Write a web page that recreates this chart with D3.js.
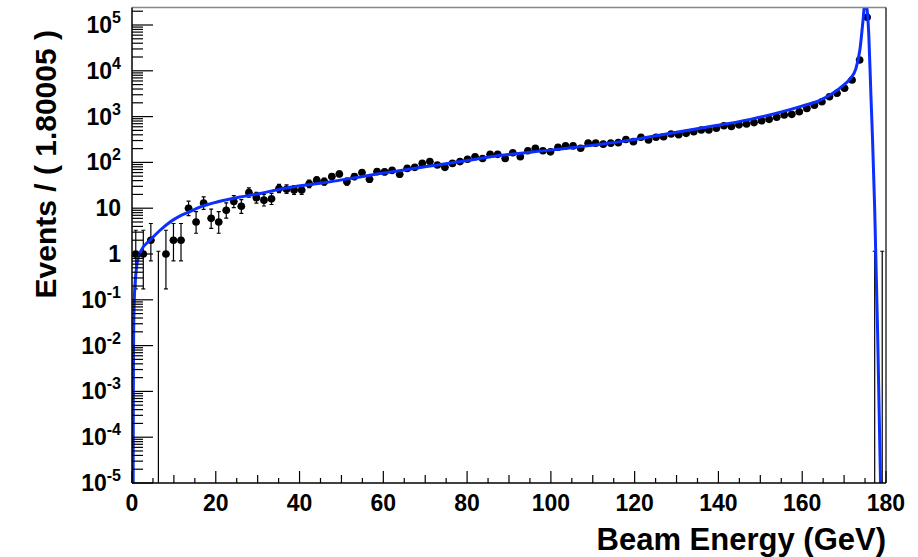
<!DOCTYPE html>
<html><head><meta charset="utf-8">
<script src="https://cdn.jsdelivr.net/npm/d3@7"></script>
<style>
html,body{margin:0;padding:0;background:#fff;}
svg text{font-family:"Liberation Sans",Arial,Helvetica,sans-serif;font-weight:bold;fill:#000;}
</style></head>
<body><svg id="chart" width="918" height="557"></svg>
<script>
// ---------------- DATA ----------------
const binWidth = 1.80005;
const nBins = 100;
// event counts per bin (bin i centred at (i+0.5)*binWidth GeV)
const counts = [
  1, 1, 2, 0, 1, 2, 2, 10, 5, 13,
  6, 5, 9, 14, 11, 22, 17, 15, 16, 27,
  26, 25, 25, 34, 41, 38, 49, 56, 38, 49,
  60, 43, 63, 62, 67, 55, 74, 78, 95, 104,
  88, 78, 95, 104, 117, 133, 122, 150, 150, 122,
  163, 133, 180, 204, 180, 170, 214, 229, 229, 204,
  263, 263, 250, 263, 270, 316, 284, 354, 308, 354,
  363, 417, 400, 431, 467, 510, 510, 555, 630, 610,
  660, 690, 740, 810, 870, 965, 1080, 1120, 1280, 1510,
  1780, 2110, 2720, 3230, 4170, 6300, 17200, 147000, 0, 0
];
// fitted model curve (GeV, events)
const curveE = [0.28, 0.32, 0.4, 0.55, 0.9, 1.3, 2.2, 4.3, 6.7, 9.1, 11.5, 13.8, 16.2, 21, 25.8, 30.6, 35.3, 40.1, 44.9, 49.7, 54.4, 59.2, 69.9, 80, 85.5, 101, 116.5, 123.7, 135.6, 147.6, 159.5, 164.3, 169, 171.5, 172.8, 173.8, 174.5, 175.0, 175.4, 175.9, 176.4, 176.8, 177.3, 178.0, 178.7];
const curveV = [1e-5, 0.001, 0.02, 0.1, 0.35, 0.7, 1.2, 2.0, 3.3, 5, 6.8, 8.4, 10.6, 14.2, 17.5, 21, 26, 31, 35, 41, 48, 57, 80, 110, 133, 190, 284, 363, 555, 870, 1650, 2300, 4200, 6800, 11000, 30000, 1.2e5, 3.2e5, 2.5e5, 6e4, 3000, 300, 10, 0.02, 1e-5];
// axis ticks
const xTicks = [0, 20, 40, 60, 80, 100, 120, 140, 160, 180];
const yExponents = [-5, -4, -3, -2, -1, 0, 1, 2, 3, 4, 5];
const xTitle = "Beam Energy (GeV)";
const yTitle = "Events / ( 1.80005 )";

// ---------------- LAYOUT ----------------
const L = 132, R = 886, T = 7.5, B = 483;
const svg = d3.select("#chart");
const x = d3.scaleLinear().domain([0, nBins * binWidth]).range([L, R]);
const y = d3.scaleLog().domain([1e-5, 2.41e5]).range([B, T]);

svg.append("defs").append("clipPath").attr("id", "clip")
  .append("rect").attr("x", L).attr("y", T).attr("width", R - L).attr("height", B - T);

// Poisson interval (68.27%), RooFit-style
function poisCdf(n, mu) { let p = Math.exp(-mu), s = p; for (let k = 1; k <= n; k++) { p *= mu / k; s += p; } return s; }
function poissonInterval(n) {
  if (n === 0) return [0, 1.1478745];
  if (n > 100) return [n - Math.sqrt(n + 0.25) + 0.5, n + Math.sqrt(n + 0.25) + 0.5];
  const a = 0.158655;
  let lo = 0, hi = n;
  for (let i = 0; i < 80; i++) { const m = (lo + hi) / 2; (1 - poisCdf(n - 1, m) > a) ? hi = m : lo = m; }
  const muLo = (lo + hi) / 2;
  lo = n; hi = n + 10 * Math.sqrt(n) + 10;
  for (let i = 0; i < 80; i++) { const m = (lo + hi) / 2; (poisCdf(n, m) > a) ? lo = m : hi = m; }
  return [muLo, (lo + hi) / 2];
}

const pts = counts.map((c, i) => {
  const [lo, hi] = poissonInterval(c);
  return { e: (i + 0.5) * binWidth, e0: i * binWidth, e1: (i + 1) * binWidth, c, lo, hi };
});

const gData = svg.append("g").attr("clip-path", "url(#clip)");
const yc = v => v <= 0 ? B + 50 : y(v);
gData.selectAll("line.ev").data(pts).join("line")
  .attr("x1", d => x(d.e)).attr("x2", d => x(d.e))
  .attr("y1", d => yc(d.lo)).attr("y2", d => yc(d.hi))
  .attr("stroke", "#000").attr("stroke-width", 1.2);
gData.selectAll("line.cap").data(pts.flatMap(d => [[d, d.hi], [d, d.lo]]).filter(p => p[1] > 0)).join("line")
  .attr("x1", p => x(p[0].e) - 2).attr("x2", p => x(p[0].e) + 2)
  .attr("y1", p => y(p[1])).attr("y2", p => y(p[1]))
  .attr("stroke", "#000").attr("stroke-width", 1.2);
gData.selectAll("line.eh").data(pts.filter(d => d.c > 0)).join("line")
  .attr("x1", d => x(d.e0)).attr("x2", d => x(d.e1))
  .attr("y1", d => y(d.c)).attr("y2", d => y(d.c))
  .attr("stroke", "#000").attr("stroke-width", 1.2);
gData.selectAll("circle").data(pts.filter(d => d.c > 0)).join("circle")
  .attr("cx", d => x(d.e)).attr("cy", d => y(d.c)).attr("r", 3.8).attr("fill", "#000");

const curve = curveE.map((e, i) => [e, curveV[i]]);
gData.append("path").datum(curve)
  .attr("d", d3.line().x(d => x(d[0])).y(d => y(d[1])).curve(d3.curveMonotoneX))
  .attr("fill", "none").attr("stroke", "#0a2fff").attr("stroke-width", 3);

svg.append("line").attr("x1", L).attr("x2", R).attr("y1", T).attr("y2", T).attr("stroke", "#888").attr("stroke-width", 1.5);
svg.append("line").attr("x1", R).attr("x2", R).attr("y1", T).attr("y2", B).attr("stroke", "#000").attr("stroke-width", 1.2);

const gx = svg.append("g");
gx.append("line").attr("x1", L).attr("x2", R).attr("y1", B).attr("y2", B).attr("stroke", "#000").attr("stroke-width", 1.5);
const xMinor = d3.range(0, 181, 5);
gx.selectAll("line.t").data(xMinor).join("line")
  .attr("x1", d => x(d)).attr("x2", d => x(d))
  .attr("y1", B).attr("y2", d => B - (d % 20 === 0 ? 12 : d % 10 === 0 ? 8 : 5))
  .attr("stroke", "#000").attr("stroke-width", 1.2);
gx.selectAll("text").data(xTicks).join("text")
  .attr("x", d => x(d)).attr("y", 511).attr("text-anchor", "middle")
  .attr("font-size", 23).text(d => d);
svg.append("text").attr("x", 886).attr("y", 550).attr("text-anchor", "end")
  .attr("font-size", 31).text(xTitle);

const gy = svg.append("g");
gy.append("line").attr("x1", L).attr("x2", L).attr("y1", T).attr("y2", B).attr("stroke", "#000").attr("stroke-width", 1.5);
const yMinor = [];
for (let e = -5; e <= 5; e++) for (let k = 1; k <= 9; k++) { const v = k * Math.pow(10, e); if (v <= 2.41e5) yMinor.push({ v, major: k === 1 }); }
gy.selectAll("line.t").data(yMinor).join("line")
  .attr("x1", L).attr("x2", d => L + (d.major ? 21 : 11))
  .attr("y1", d => y(d.v)).attr("y2", d => y(d.v))
  .attr("stroke", "#000").attr("stroke-width", 1.2);
yExponents.forEach(e => {
  const t = gy.append("text").attr("x", 121).attr("y", y(Math.pow(10, e)) + 8).attr("text-anchor", "end").attr("font-size", 23);
  if (e === 0) t.text("1");
  else if (e === 1) t.text("10");
  else { t.append("tspan").text("10"); t.append("tspan").attr("dy", -10).attr("font-size", 16).text(e); }
});
svg.append("text").attr("transform", "translate(56,30) rotate(-90)").attr("text-anchor", "end")
  .attr("font-size", 30).text(yTitle);
</script></body></html>
